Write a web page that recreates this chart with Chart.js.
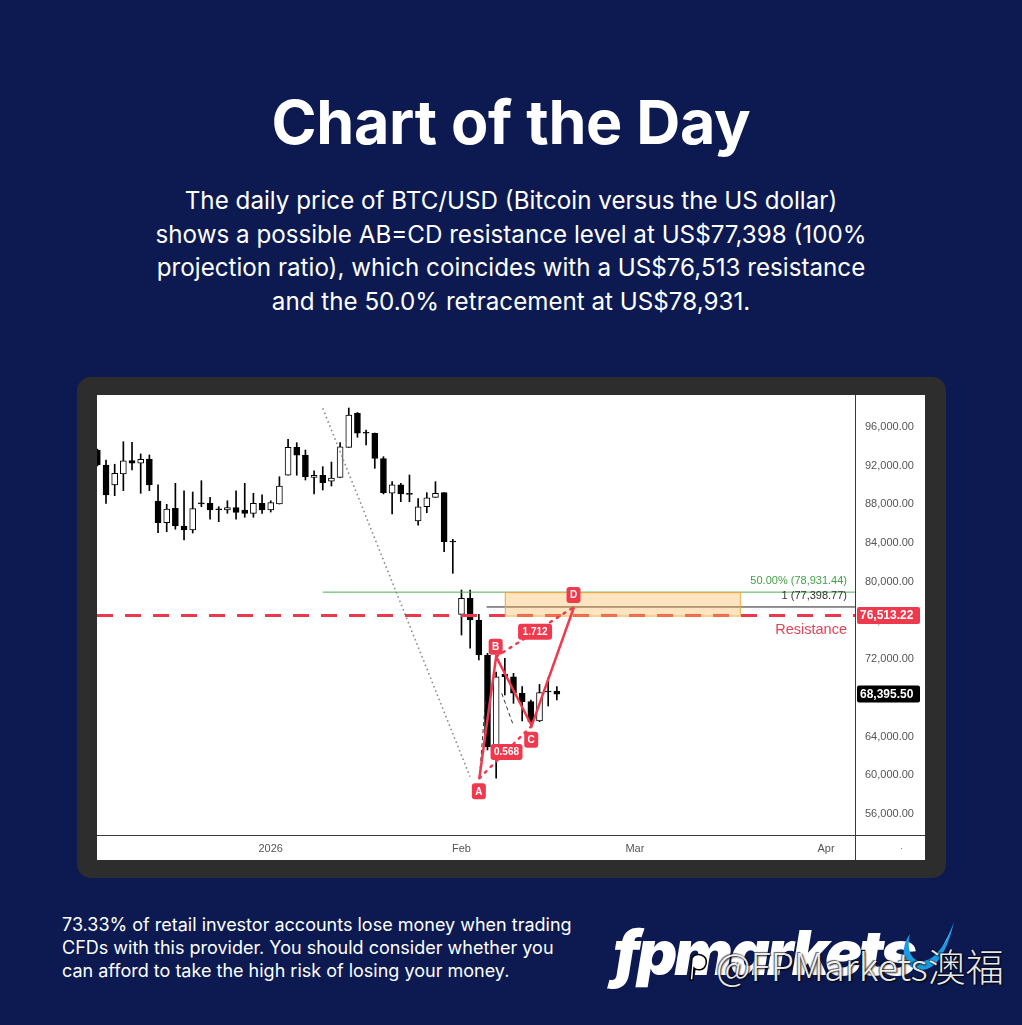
<!DOCTYPE html>
<html>
<head>
<meta charset="utf-8">
<script src="https://cdn.jsdelivr.net/npm/chart.js@4.4.0/dist/chart.umd.min.js"></script>
<style>
body { margin: 0; width: 1022px; height: 1025px; background: #0c1a51; font-family: Inter, "Noto Sans", sans-serif; color: #fff; position: relative; overflow: hidden; }
#titre { position: absolute; left: 0; width: 1022px; top: 86px; text-align: center; font-size: 61px; font-weight: 700; line-height: 72px; letter-spacing: -0.3px; }
#texte { position: absolute; left: 0; width: 1022px; top: 184px; text-align: center; font-size: 24.2px; line-height: 33.7px; }
#cadre { position: absolute; left: 77px; top: 377px; width: 869px; height: 501px; background: #2d2d2d; border-radius: 14px; }
#panneau { position: absolute; left: 97px; top: 395px; width: 828px; height: 465px; background: #fff; }
#avert { position: absolute; left: 62px; top: 913px; font-size: 18px; line-height: 23px; }
#logo { position: absolute; left: 613px; top: 918px; font-size: 62px; font-weight: 900; font-style: italic; letter-spacing: -3px; line-height: 70px; }
#swoosh { position: absolute; left: 896px; top: 916px; }
#filigrane { position: absolute; left: 716px; top: 941px; font-family: "Noto Sans CJK SC", "Noto Sans", sans-serif; font-weight: 300; font-size: 38px; line-height: 48px; color: rgba(255,255,255,0.92); text-shadow: 1px 1px 2px #000, -1px -1px 1px rgba(0,0,0,0.6); }
#icone { position: absolute; left: 684px; top: 950px; }
</style>
</head>
<body>
<div id="titre">Chart of the Day</div>
<div id="texte">The daily price of BTC/USD (Bitcoin versus the US dollar)<br>shows a possible AB=CD resistance level at US$77,398 (100%<br>projection ratio), which coincides with a US$76,513 resistance<br>and the 50.0% retracement at US$78,931.</div>
<div id="cadre"></div>
<div id="panneau"><canvas id="graphique" width="828" height="465"></canvas></div>
<div id="avert">73.33% of retail investor accounts lose money when trading<br>CFDs with this provider. You should consider whether you<br>can afford to take the high risk of losing your money.</div>
<div id="logo">fpmarkets</div>
<svg id="swoosh" width="64" height="72" viewBox="0 0 64 72">
  <path d="M14 18 C 2 34, 8 54, 26 54 C 42 53, 52 32, 58 6 C 50 26, 42 42, 28 45 C 16 47, 10 34, 14 18 Z" fill="#1e9be0"/>
  <path d="M50 24 C 54 18, 56 12, 58 6 C 55 16, 52 22, 47 30 Z" fill="#7fd0f7"/>
</svg>
<svg id="icone" width="28" height="34" viewBox="0 0 28 34">
  <path d="M6 30 L8 8 C 12 2, 24 4, 22 14 C 20 22, 12 20, 10 18 L 9 30 Z" fill="#fff" stroke="#000" stroke-width="1.5"/>
</svg>
<div id="filigrane">@FPMarkets澳福</div>

<script>
// Bougies journalières (index = jour de cotation)
const ouvertures = [93620, 92070, 90010, 91140, 92520, 92250, 92690, 88350, 86110, 87600, 85770, 85350, 88110, 88110, 87490, 87420, 87660, 87420, 87080, 88110,
    87420, 88040, 91010, 93900, 93080, 90800, 91010, 90390, 90800, 93900, 97420, 95410, 95350, 92740, 89150, 90010, 89110, 86280, 87760, 88730,
    89210, 84190, 76640, 78290, 76050, 72430, 62890, 70440, 70190, 68480, 67610, 65610, 68660, 68710];
const hauts = [93730, 92590, 92150, 94480, 94420, 93210, 93110, 90010, 88010, 90180, 89390, 89280, 90450, 88730, 87760, 88380, 89390, 90180, 89150, 89000,
    88380, 90860, 94730, 94380, 93620, 91480, 91900, 92380, 94380, 97960, 97500, 95690, 95380, 92930, 90350, 90180, 91040, 88590, 89210, 90350,
    89210, 84390, 79150, 79150, 76640, 72610, 70680, 72090, 70540, 69160, 67780, 69390, 70060, 69160];
const bas = [91970, 88110, 88900, 89420, 91560, 89150, 89420, 85080, 85180, 85430, 84320, 85040, 87760, 86460, 86210, 87080, 86460, 86670, 86670, 87080,
    87210, 88040, 91010, 91010, 90520, 89080, 89490, 89900, 90800, 93900, 94940, 94140, 91730, 89080, 87010, 88280, 88280, 85840, 87140, 88730,
    83110, 80880, 74500, 73130, 71920, 62610, 59690, 68300, 67440, 65610, 65020, 65540, 67160, 67780];
const clotures = [92070, 88970, 91210, 92490, 92250, 92660, 90010, 86110, 87520, 85770, 85350, 87560, 88060, 87420, 87450, 87660, 87180, 87080, 88110, 87420,
    88180, 89900, 93900, 93080, 90860, 91010, 90240, 90730, 93960, 97240, 95350, 95350, 92740, 89210, 90010, 89080, 89040, 87760, 88690, 89150,
    84150, 84110, 78290, 76050, 72430, 62960, 70190, 70190, 68480, 67610, 65510, 68560, 68610, 68395.5];

// Axes
const X_MIN = -0.04, X_MAX = 87.39;
const Y_MIN = 53829, Y_MAX = 99307;
const prixTicks = [96000, 92000, 88000, 84000, 80000, 76000, 72000, 68000, 64000, 60000, 56000];
const datesIdx = [20, 42, 62, 84.05];
const datesLabels = ["2026", "Feb", "Mar", "Apr"];

// Niveaux
const niveau50 = 78931.44;
const niveauAbcd = 77398.77;
const resistance = 76513.22;
const dernierPrix = 68395.50;

// Figure AB=CD
const abcdNoms = ["A", "B", "C", "D"];
const abcdX = [44.06, 46.0, 50.1, 54.98];
const abcdY = [59690, 72258, 65126, 77398.77];
const ratioAC = "0.568";
const ratioBD = "1.712";

// Tracés
const tendanceX = [26.0, 42.98];
const tendanceY = [97930, 59860];
const debut50 = 26.0;
const debutAbcd = 44.9;
const zoneX = [47.0, 74.1];
const tiretsX = [[44.1, 44.76], [46.64, 47.9]];
const tiretsY = [[60030, 67750], [68475, 65375]];

function fmt(v) {
    return v.toLocaleString('en-US', { minimumFractionDigits: 2, maximumFractionDigits: 2 });
}

function ligne(label, xs, ys, couleur, largeur, tirets, ordre) {
    let pts = [];
    for (let i = 0; i < xs.length; i++) pts.push({ x: xs[i], y: ys[i] });
    return { type: 'line', label: label, data: pts, borderColor: couleur, borderWidth: largeur, borderDash: tirets || [],
        pointRadius: 0, fill: false, tension: 0, order: ordre, borderCapStyle: 'butt' };
}

let meches = [], corps = [], couleursCorps = [];
for (let i = 0; i < ouvertures.length; i++) {
    meches.push({ x: i, y: [bas[i], hauts[i]] });
    corps.push({ x: i, y: [ouvertures[i], clotures[i]] });
    couleursCorps.push(clotures[i] >= ouvertures[i] ? '#ffffff' : '#000000');
}

function boite(ctx, x, y, w, h, r, couleur) {
    ctx.beginPath();
    ctx.roundRect(x, y, w, h, r);
    ctx.fillStyle = couleur;
    ctx.fill();
}

function etiquetteRouge(ctx, texte, cx, cy, w) {
    boite(ctx, cx - w / 2, cy - 8, w, 16, 3, '#ef3a4e');
    ctx.fillStyle = '#fff';
    ctx.font = 'bold 10px "Liberation Sans"';
    ctx.textAlign = 'center';
    ctx.textBaseline = 'middle';
    ctx.fillText(texte, cx, cy + 0.5);
}

const dessins = {
    id: 'dessins',
    beforeDatasetDraw(chart, args) {
        if (chart.data.datasets[args.index].label !== 'tirets') return;
        // Zone orange entre la résistance et le 50%
        let ctx = chart.ctx, sx = chart.scales.x, sy = chart.scales.y;
        let x1 = sx.getPixelForValue(zoneX[0]), x2 = sx.getPixelForValue(zoneX[1]);
        let y1 = sy.getPixelForValue(niveau50), y2 = sy.getPixelForValue(resistance);
        ctx.save();
        ctx.fillStyle = 'rgba(255, 178, 80, 0.35)';
        ctx.fillRect(x1, y1, x2 - x1, y2 - y1);
        ctx.strokeStyle = '#f2a73b';
        ctx.lineWidth = 1;
        ctx.strokeRect(x1 + 0.5, y1 + 0.5, x2 - x1, y2 - y1);
        ctx.restore();
    },
    afterDraw(chart) {
        let ctx = chart.ctx, sx = chart.scales.x, sy = chart.scales.y, ca = chart.chartArea;
        ctx.save();

        // Bordures des axes
        ctx.strokeStyle = '#3a3a3a';
        ctx.lineWidth = 1;
        ctx.beginPath();
        ctx.moveTo(ca.right + 0.5, 0); ctx.lineTo(ca.right + 0.5, chart.height);
        ctx.moveTo(0, ca.bottom + 0.5); ctx.lineTo(chart.width, ca.bottom + 0.5);
        ctx.stroke();
        ctx.fillStyle = '#888';
        ctx.fillRect(ca.right + 46, ca.bottom + 13, 1, 1);

        // Etiquettes A B C D
        let px = [], py = [];
        for (let i = 0; i < abcdNoms.length; i++) {
            px.push(sx.getPixelForValue(abcdX[i]));
            py.push(sy.getPixelForValue(abcdY[i]));
        }
        let decalages = [13, -10, 14, -12];
        for (let i = 0; i < abcdNoms.length; i++) {
            etiquetteRouge(ctx, abcdNoms[i], px[i] - 0.5, py[i] + decalages[i], 14);
        }
        etiquetteRouge(ctx, ratioAC, (px[0] + px[2]) / 2 + 1, (py[0] + py[2]) / 2, 32);
        etiquetteRouge(ctx, ratioBD, (px[1] + px[3]) / 2, (py[1] + py[3]) / 2, 34);

        // Textes des niveaux
        ctx.textAlign = 'right';
        ctx.textBaseline = 'middle';
        ctx.font = '11px "Liberation Sans"';
        ctx.fillStyle = '#43a047';
        ctx.fillText('50.00% (' + fmt(niveau50) + ')', ca.right - 8, sy.getPixelForValue(niveau50) - 11);
        ctx.fillStyle = '#333';
        ctx.fillText('1 (' + fmt(niveauAbcd) + ')', ca.right - 8, sy.getPixelForValue(niveauAbcd) - 11);
        ctx.font = '14.5px "Liberation Sans"';
        ctx.fillStyle = '#e04557';
        ctx.fillText('Resistance', ca.right - 8, sy.getPixelForValue(resistance) + 14);

        // Prix sur l'axe
        function tag(v, couleur) {
            let y = sy.getPixelForValue(v);
            boite(ctx, ca.right + 2, y - 8.5, 63, 17, 2, couleur);
            ctx.fillStyle = '#fff';
            ctx.font = 'bold 12px "Liberation Sans"';
            ctx.textAlign = 'left';
            ctx.fillText(fmt(v), ca.right + 5, y + 0.5);
        }
        tag(resistance, '#ef3a4e');
        tag(dernierPrix, '#000000');
        ctx.restore();
    }
};

let datasets = [
    { type: 'bar', label: 'meches', data: meches, backgroundColor: '#000', barThickness: 1, grouped: false, order: 10 },
    { type: 'bar', label: 'corps', data: corps, backgroundColor: couleursCorps, borderColor: '#000', borderWidth: 1,
        borderSkipped: false, barThickness: 6, minBarLength: 1, grouped: false, order: 9 },
    ligne('tendance', tendanceX, tendanceY, '#8c8c8c', 1.6, [1.6, 3], 8),
    ligne('fibo50', [debut50, X_MAX], [niveau50, niveau50], '#4caf50', 1, null, 7),
    ligne('abcd100', [debutAbcd, X_MAX], [niveauAbcd, niveauAbcd], '#222', 1, null, 6),
    ligne('resistance', [X_MIN, X_MAX], [resistance, resistance], '#e8394d', 3, [16, 12], 5),
    ligne('tirets', tiretsX[0], tiretsY[0], '#333', 1, [4, 3], 4),
    ligne('tirets2', tiretsX[1], tiretsY[1], '#333', 1, [4, 3], 4),
    ligne('ac', [abcdX[0], abcdX[2]], [abcdY[0], abcdY[2]], '#ef3a4e', 2.5, [2, 6], 3),
    ligne('bd', [abcdX[1], abcdX[3]], [abcdY[1], abcdY[3]], '#ef3a4e', 2.5, [2, 6], 3),
    ligne('abcd', abcdX, abcdY, '#ef3a4e', 2.5, null, 2)
];
datasets[8].borderCapStyle = 'round';
datasets[9].borderCapStyle = 'round';

new Chart(document.getElementById('graphique'), {
    type: 'bar',
    data: { datasets: datasets },
    options: {
        responsive: false,
        animation: false,
        layout: { padding: 0 },
        plugins: { legend: { display: false }, tooltip: { enabled: false } },
        scales: {
            x: {
                type: 'linear', min: X_MIN, max: X_MAX, offset: false,
                grid: { display: false, drawTicks: false }, border: { display: false },
                afterBuildTicks: function (s) { s.ticks = datesIdx.map(v => ({ value: v })); },
                afterFit: function (s) { s.height = 25; s.paddingLeft = 0; s.paddingRight = 0; },
                ticks: { autoSkip: false, maxRotation: 0, padding: 7, color: '#555', font: { size: 11, family: 'Liberation Sans' },
                    callback: function (v, i) { return datesLabels[i]; } }
            },
            y: {
                position: 'right', min: Y_MIN, max: Y_MAX,
                grid: { display: false, drawTicks: false }, border: { display: false },
                afterBuildTicks: function (s) { s.ticks = prixTicks.map(v => ({ value: v })); },
                afterFit: function (s) { s.width = 70; s.paddingTop = 0; s.paddingBottom = 0; },
                ticks: { padding: 10, color: '#555', font: { size: 11, family: 'Liberation Sans' },
                    callback: function (v) { return fmt(v); } }
            }
        }
    },
    plugins: [dessins]
});
</script>
</body>
</html>
